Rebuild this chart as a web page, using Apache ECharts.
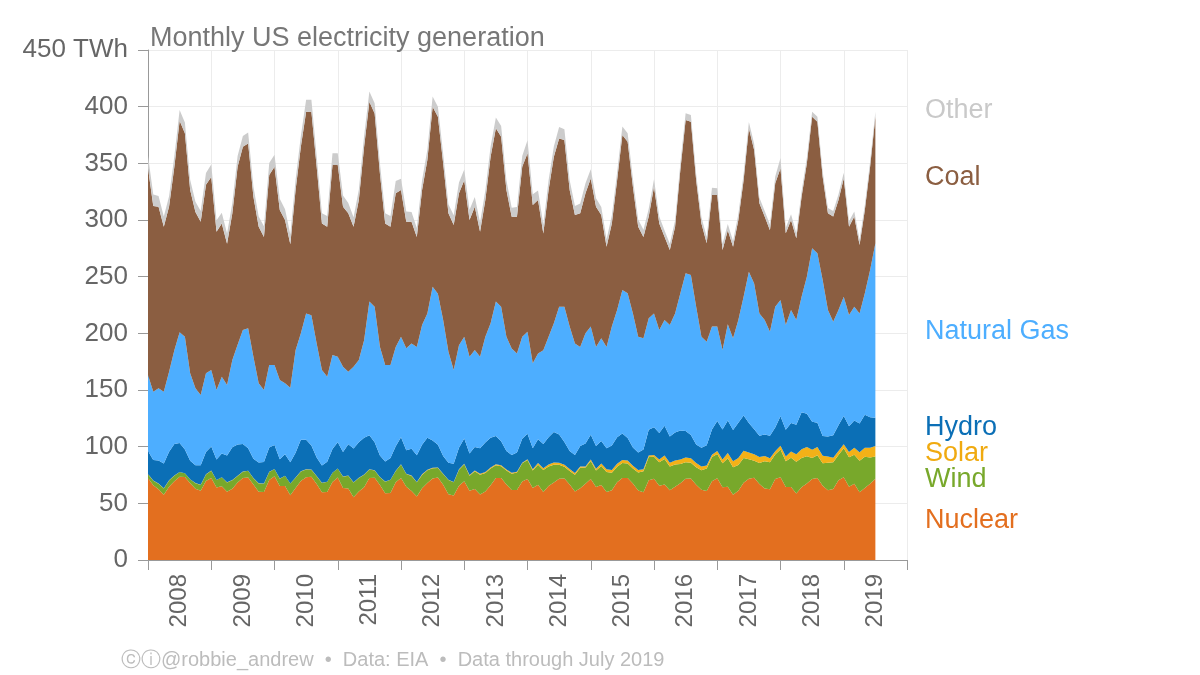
<!DOCTYPE html>
<html>
<head>
<meta charset="utf-8">
<script src="https://cdn.jsdelivr.net/npm/echarts@6/dist/echarts.min.js"></script>
<style>
html,body{margin:0;padding:0;background:#fff;}
#chart{width:1200px;height:675px;}
</style>
</head>
<body>
<div id="chart"></div>
<script>
// Monthly US electricity generation, TWh, Jan 2008 – Jul 2019
const years = ['2008','2009','2010','2011','2012','2013','2014','2015','2016','2017','2018','2019'];
const yTicks = [0,50,100,150,200,250,300,350,400,450];

const nuclear = [
72.3,65.9,62.4,57.5,64.6,69.4,73.4,73.3,67.7,62.9,61.2,69.6,
72.4,63.9,65.0,60.2,62.9,68.3,72.4,72.8,66.7,60.2,60.0,70.5,
73.9,65.3,65.4,57.2,63.5,69.6,73.1,73.4,67.1,59.7,60.1,68.9,
72.7,63.5,63.1,55.3,60.4,64.3,72.4,72.6,66.1,59.0,59.1,68.6,
72.4,64.6,60.8,56.1,63.3,67.9,71.9,72.8,66.3,58.0,56.9,65.6,
69.4,61.1,62.6,57.8,60.5,66.0,72.4,72.4,66.6,61.8,61.7,69.2,
71.5,63.5,66.5,60.1,65.3,68.3,71.7,72.0,66.6,60.5,63.2,67.2,
71.5,64.4,66.2,60.1,61.6,68.5,72.4,72.3,67.4,61.3,59.7,70.3,
71.6,65.5,66.7,61.6,64.7,67.8,71.6,71.9,66.3,61.9,60.9,69.5,
72.2,64.1,64.6,57.5,61.1,68.2,71.8,72.6,67.0,63.0,62.5,71.5,
73.0,64.4,64.4,58.7,64.2,67.4,71.5,72.4,65.6,61.5,62.7,70.3,
73.1,64.6,67.2,59.7,63.5,67.3,71.6];

const wind = [
3.4,4.1,4.9,5.6,5.6,5.0,4.2,3.2,3.5,4.9,5.0,5.9,
6.4,6.6,8.0,8.2,7.5,5.9,5.5,5.9,5.5,7.4,7.3,7.2,
6.4,6.5,8.9,10.2,9.1,8.5,6.7,6.3,6.9,8.3,8.9,8.0,
8.0,10.0,11.2,13.0,12.0,11.0,7.4,6.4,7.0,10.0,11.7,10.0,
11.9,11.2,13.3,12.4,11.8,11.2,9.0,8.3,9.5,12.5,11.6,14.1,
15.1,13.3,15.7,17.4,16.3,14.7,11.2,10.3,12.3,14.4,15.5,16.1,
16.7,15.5,17.6,19.3,17.2,15.8,12.4,10.3,11.9,14.7,18.2,14.5,
15.8,14.5,16.8,17.6,15.4,13.8,13.1,12.8,13.3,16.0,18.7,20.5,
19.4,20.8,22.5,20.8,19.5,16.9,14.6,13.9,15.6,17.4,19.9,21.4,
21.4,21.2,25.2,24.4,22.7,21.7,17.2,14.9,18.6,24.1,23.8,21.5,
24.4,22.7,25.8,28.1,25.7,24.2,18.4,20.0,19.8,24.3,23.6,22.3,
25.4,26.0,25.7,27.9,27.6,23.2,19.7];

const solar = [
0.1,0.1,0.1,0.1,0.1,0.1,0.1,0.1,0.1,0.1,0.1,0.1,
0.1,0.1,0.1,0.1,0.1,0.1,0.1,0.1,0.1,0.1,0.1,0.1,
0.1,0.1,0.1,0.1,0.2,0.2,0.2,0.2,0.1,0.1,0.1,0.1,
0.1,0.1,0.2,0.2,0.2,0.2,0.2,0.2,0.2,0.2,0.1,0.1,
0.2,0.3,0.4,0.4,0.5,0.5,0.5,0.5,0.4,0.4,0.3,0.3,
0.4,0.5,0.7,0.8,0.9,0.9,0.9,1.0,0.9,0.8,0.6,0.5,
0.8,1.0,1.4,1.6,1.8,1.9,1.8,1.8,1.7,1.5,1.1,0.9,
1.3,1.6,2.1,2.3,2.5,2.6,2.7,2.6,2.4,2.1,1.7,1.4,
1.7,2.3,2.9,3.3,3.7,4.0,4.2,4.0,3.6,3.2,2.6,2.0,
2.6,3.4,4.7,5.2,6.2,6.5,5.9,5.7,5.2,4.7,3.5,3.0,
3.5,4.2,5.6,6.5,7.8,8.1,7.4,7.4,6.5,5.6,4.0,3.5,
3.6,4.6,6.1,7.4,7.9,8.5,9.3];

const hydro = [
20.3,18.1,20.4,22.0,25.3,27.9,25.6,20.8,16.3,15.7,17.4,19.6,
21.3,18.0,20.8,23.7,28.9,27.7,24.3,19.9,17.1,18.4,19.0,21.4,
21.1,17.0,18.9,18.7,21.9,27.8,26.0,21.2,16.4,15.2,17.6,20.9,
23.0,21.6,27.7,29.8,31.4,32.3,30.0,24.6,19.0,17.7,19.2,21.6,
23.8,20.7,23.6,23.5,26.2,28.2,24.0,20.0,15.5,15.0,16.1,19.1,
22.4,19.1,20.7,22.5,26.0,26.2,25.0,21.1,16.4,15.6,17.0,21.1,
22.3,18.5,21.0,21.4,24.1,27.0,24.8,20.1,16.0,16.0,18.0,20.1,
22.0,20.1,20.0,18.6,21.6,23.4,23.5,19.9,16.2,15.5,17.5,22.7,
24.4,23.5,26.3,23.3,24.6,25.5,23.5,20.5,16.5,16.5,17.8,22.2,
26.5,26.4,28.5,27.5,31.0,31.2,26.0,22.2,18.8,19.0,19.9,21.0,
26.0,23.7,25.0,26.1,32.7,29.3,24.7,21.2,17.5,17.6,19.8,22.8,
25.0,22.8,24.0,25.5,29.1,27.0,25.0];

const gas = [
67.1,60.3,63.7,63.3,70.6,82.6,97.7,99.6,77.1,67.9,61.9,69.5,
67.4,61.4,67.8,62.2,77.1,88.0,100.7,105.7,90.0,69.8,63.6,72.8,
70.5,69.9,62.6,65.8,90.3,93.9,111.6,114.9,100.5,84.3,75.0,83.0,
75.6,75.4,64.0,72.3,72.5,86.2,118.0,119.7,95.9,85.1,81.9,87.7,
88.7,90.0,92.9,95.6,105.5,109.8,135.8,133.4,120.1,97.8,82.7,90.4,
89.7,85.4,85.6,80.9,93.3,101.0,118.5,118.7,100.8,94.1,87.5,90.1,
90.2,75.0,75.8,82.6,88.6,95.8,112.8,119.3,109.8,98.3,87.5,97.3,
95.4,87.4,90.5,89.4,104.9,112.3,126.5,127.7,118.3,102.1,98.0,98.3,
100.5,90.9,93.4,98.4,105.1,121.1,139.1,141.2,121.5,98.0,91.4,90.9,
83.3,70.2,85.0,81.0,90.8,104.7,133.5,128.6,108.0,101.0,91.8,106.5,
102.5,92.4,99.8,92.4,101.9,121.0,153.0,149.6,137.6,111.6,100.2,101.7,
105.2,98.2,100.5,97.1,107.2,129.9,153.8];

const coal = [
182.4,163.9,160.2,145.5,145.8,162.0,186.6,179.5,161.8,155.5,152.9,166.3,
170.4,139.7,135.3,124.6,129.5,157.0,161.7,163.2,141.2,138.1,135.0,167.7,
175.0,150.0,144.1,126.5,141.5,164.7,178.0,179.6,156.0,129.4,132.3,167.6,
169.1,141.1,139.8,123.4,141.1,170.7,176.4,170.5,152.8,125.0,122.0,135.5,
129.5,111.7,107.5,97.0,119.2,135.4,158.8,156.0,138.2,122.3,128.0,134.0,
138.0,120.6,126.4,110.3,120.6,147.0,152.9,150.0,129.5,116.2,120.6,150.0,
157.3,139.7,135.3,103.0,129.5,147.0,148.5,147.1,120.5,113.4,118.0,123.5,
130.7,123.7,108.8,88.5,91.0,114.4,136.8,133.7,111.8,97.0,89.4,89.8,
111.8,94.0,73.5,66.1,76.4,108.8,135.2,135.2,111.5,100.0,86.8,116.0,
116.0,88.2,83.0,80.9,88.2,102.7,126.5,117.7,97.1,91.2,89.5,108.9,
116.2,80.8,79.4,72.0,88.3,100.0,116.0,116.1,91.2,85.4,92.7,97.0,
104.4,77.8,79.5,60.4,73.5,91.1,111.6];

const other = [
11,10,9.5,9,9,9.5,9.5,9.5,9,9,9.5,10.5,
11,10,9.5,9,9,9.5,9.5,9.5,9,9,9.5,10.5,
10.5,10,9.5,9,9,9.5,10.5,10.5,9.5,9,9.5,10.5,
10.5,10,9,8.5,9,9.5,9,9,9,9,9.5,11,
10,9,8.5,8,8.5,9,9,9,8.5,8,8.5,9.5,
9.5,9,8.5,8,8.5,9,9.5,9.5,8.5,8,8.5,9.5,
11.5,9.5,8.5,8,8.5,9,10,9.5,8.5,8,8.5,9,
8,7.5,7,6.5,7,7,7.5,7.5,7,6.5,6.5,7,
6.5,6,5.5,5.5,5.5,6,6,6,5.5,5.5,5.5,6.5,
6,5.5,5.5,5,5,5.5,5.5,5.5,5,5,5,6,
9,5,5,4.5,4.5,5,4.5,4.5,4.5,4.5,5,5,
5,5,4.5,4.5,4.5,4.5,4.5];

// month categories Jan 2008 .. Jan 2020 (axis end)
const months = [];
years.forEach(y => { for (let m = 1; m <= 12; m++) months.push(y + '-' + String(m).padStart(2, '0')); });
months.push('2020-01');

const seriesDefs = [
  {name: 'Nuclear', data: nuclear, color: '#e36f1f'},
  {name: 'Wind', data: wind, color: '#78a82b'},
  {name: 'Solar', data: solar, color: '#f3b118'},
  {name: 'Hydro', data: hydro, color: '#0b6fb6'},
  {name: 'Natural Gas', data: gas, color: '#4daeff'},
  {name: 'Coal', data: coal, color: '#8b5e41'},
  {name: 'Other', data: other, color: '#cccccc'}
];

const labelPos = [
  {text: 'Other', y: 108, color: '#c9c9c9'},
  {text: 'Coal', y: 175, color: '#8b5e41'},
  {text: 'Natural Gas', y: 329, color: '#4daeff'},
  {text: 'Hydro', y: 425, color: '#0b6fb6'},
  {text: 'Solar', y: 451, color: '#f0aa10'},
  {text: 'Wind', y: 477, color: '#78a82b'},
  {text: 'Nuclear', y: 518, color: '#e36f1f'}
];

const FONT = '"Liberation Sans", Arial, sans-serif';
const chart = echarts.init(document.getElementById('chart'), null, {renderer: 'canvas'});

const graphics = labelPos.map(l => ({
  type: 'text', left: 925, top: l.y - 11,
  style: {text: l.text, fill: l.color, font: '27px ' + FONT}
}));
graphics.push({
  type: 'text', left: 121, top: 650,
  style: {text: 'ⓒⓘ@robbie_andrew  \u2022  Data: EIA  \u2022  Data through July 2019', fill: '#bcbcbc', font: '20px ' + FONT}
});

chart.setOption({
  animation: false,
  backgroundColor: '#ffffff',
  title: {
    text: 'Monthly US electricity generation',
    left: 145, top: 20,
    textStyle: {fontFamily: FONT, fontSize: 27, fontWeight: 'normal', color: '#777777'}
  },
  grid: {left: 148, right: 293, top: 50, bottom: 115, containLabel: false},
  xAxis: {
    type: 'category',
    data: months,
    boundaryGap: false,
    axisLine: {show: true, lineStyle: {color: '#999999', width: 1}},
    axisTick: {show: true, length: 10, interval: (i) => i % 12 === 0, lineStyle: {color: '#999999'}},
    splitLine: {show: true, interval: (i) => i % 12 === 0, lineStyle: {color: '#ececec'}},
    axisLabel: {
      interval: (i) => i % 12 === 6,
      formatter: (v) => v.slice(0, 4),
      rotate: 90, margin: 14,
      fontFamily: FONT, fontSize: 24, color: '#666666'
    }
  },
  yAxis: {
    type: 'value', min: yTicks[0], max: yTicks[yTicks.length - 1], interval: 50,
    axisLine: {show: true, lineStyle: {color: '#999999'}},
    axisTick: {show: true, length: 10, lineStyle: {color: '#999999'}},
    splitLine: {show: true, lineStyle: {color: '#ececec'}},
    axisLabel: {
      margin: 20, fontFamily: FONT, fontSize: 26, color: '#666666',
      padding: [4, 0, 0, 0],
      formatter: (v) => v === 450 ? '450 TWh' : String(v)
    }
  },
  graphic: graphics,
  series: seriesDefs.map(s => ({
    name: s.name, type: 'line', stack: 'total', data: s.data,
    symbol: 'none', showSymbol: false, smooth: false,
    lineStyle: {width: 0, color: s.color},
    itemStyle: {color: s.color},
    areaStyle: {color: s.color, opacity: 1},
    emphasis: {disabled: true}
  }))
});
</script>
</body>
</html>
